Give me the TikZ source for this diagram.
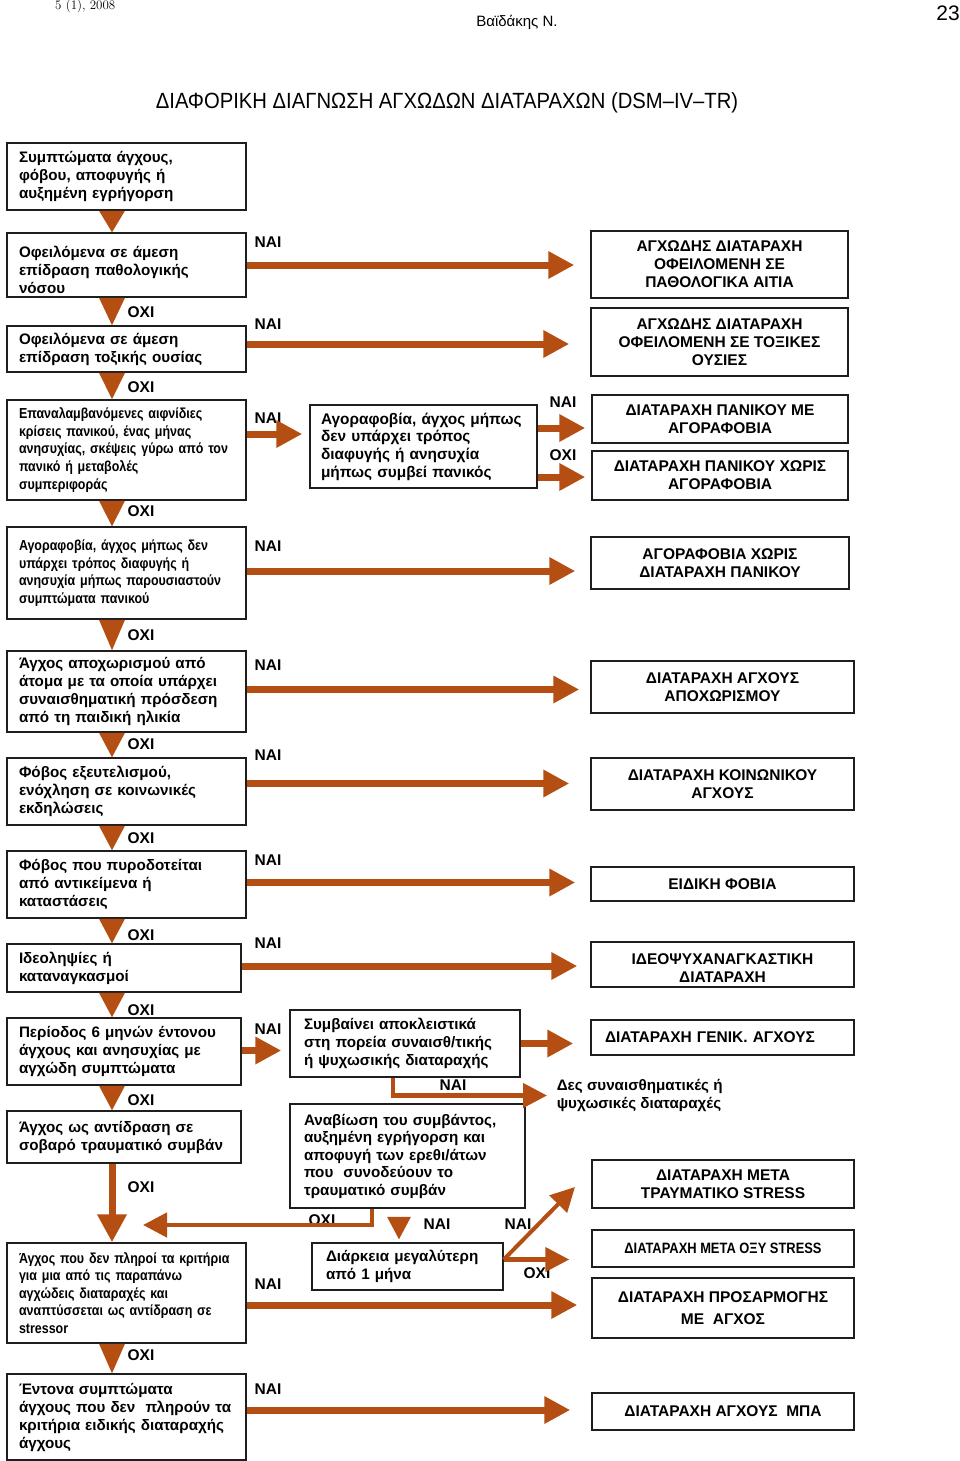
\documentclass[tikz,border=0pt]{standalone}
\usepackage{fontspec}
\usetikzlibrary{arrows.meta,calc}
\newfontfamily\sans{Liberation Sans}
\newfontfamily\sanscond[FakeStretch=0.86]{Liberation Sans}
\newfontfamily\titlefont[FakeStretch=0.92]{Liberation Sans}
\definecolor{arr}{RGB}{181,78,18}
\definecolor{boxc}{RGB}{30,30,30}
\newcommand{\dtri}[2]{\fill[arr] ($(#1.south -| tx)+(-13,0)$) -- ($(#1.south -| tx)+(13,0)$) -- (#2.north -| tx) -- cycle;}
\newcommand{\harr}[5][main]{\draw[#1, shorten >=#5pt] ($(#2.east)+(0,#4)$) -- ($(#2.east -| #3.west)+(0,#4)$);}
\begin{document}
\begin{tikzpicture}[x=1pt,y=-1pt,
 lbox/.style={draw=boxc, line width=1.5pt, inner xsep=12pt, inner ysep=0pt, align=left, font=\sans\bfseries\fontsize{15.2}{18}\selectfont},
 lboxs/.style={lbox, font=\sanscond\bfseries\fontsize{14.5}{17.6}\selectfont},
 rbox/.style={draw=boxc, line width=1.5pt, inner sep=0pt, align=center, font=\sans\bfseries\fontsize{15.5}{18}\selectfont},
 lab/.style={font=\sans\bfseries\fontsize{15.5}{15.5}\selectfont, inner sep=0pt},
 main/.style={draw=arr, line width=7pt, -{Triangle[length=26pt,width=26pt]}},
 thinarr/.style={draw=arr, line width=4.5pt, -{Triangle[length=24pt,width=24pt]}}
]
\fill[white] (0,0) rectangle (960,1461);
\useasboundingbox (0,0) rectangle (960,1461);

% header
\node[font=\fontsize{13}{15}\selectfont, anchor=north west, inner sep=0pt] (hdr1) at (55,0) {\oldstylenums{5} (\oldstylenums{1}), \oldstylenums{2008}};
\node[font=\sans\fontsize{15}{18}\selectfont] (hdr2) at (517,22) {Βαϊδάκης Ν.};
\node[font=\sans\fontsize{21}{24}\selectfont, anchor=east, inner sep=0pt] (hdr3) at (960,13) {23};
\node[font=\titlefont\fontsize{22}{26}\selectfont] (title) at (447,103) {ΔΙΑΦΟΡΙΚΗ ΔΙΑΓΝΩΣΗ ΑΓΧΩΔΩΝ ΔΙΑΤΑΡΑΧΩΝ (DSM–IV–TR)};

% left column
\node[lbox, minimum width=239pt, minimum height=67pt, text width=215pt] (A) at (126.5,176.5) {Συμπτώματα άγχους,\\φόβου, αποφυγής ή\\αυξημένη εγρήγορση};
\begin{scope}
\clip (7,233) rectangle (246,297);
\node[lbox, draw=none, text width=215pt] (Bt) at (126.5,270) {Οφειλόμενα σε άμεση\\επίδραση παθολογικής\\νόσου};
\end{scope}
\node[lbox, minimum width=239pt, minimum height=64pt] (B) at (126.5,265) {};
\node[lbox, minimum width=239pt, minimum height=46pt, text width=215pt] (C) at (126.5,349) {Οφειλόμενα σε άμεση\\επίδραση τοξικής ουσίας};
\node[lboxs, minimum width=239pt, minimum height=100pt, text width=215pt] (D) at (126.5,450) {Επαναλαμβανόμενες αιφνίδιες\\κρίσεις πανικού, ένας μήνας\\ανησυχίας, σκέψεις γύρω από τον\\πανικό ή μεταβολές\\συμπεριφοράς};
\node[lboxs, minimum width=239pt, minimum height=92pt, text width=215pt] (E) at (126.5,573) {Αγοραφοβία, άγχος μήπως δεν\\υπάρχει τρόπος διαφυγής ή\\ανησυχία μήπως παρουσιαστούν\\συμπτώματα πανικού};
\node[lbox, minimum width=239pt, minimum height=81pt, text width=215pt] (F) at (126.5,691.5) {Άγχος αποχωρισμού από\\άτομα με τα οποία υπάρχει\\συναισθηματική πρόσδεση\\από τη παιδική ηλικία};
\node[lbox, minimum width=239pt, minimum height=67pt, text width=215pt] (G) at (126.5,791.5) {Φόβος εξευτελισμού,\\ενόχληση σε κοινωνικές\\εκδηλώσεις};
\node[lbox, minimum width=239pt, minimum height=67pt, text width=215pt] (H) at (126.5,884.5) {Φόβος που πυροδοτείται\\από αντικείμενα ή\\καταστάσεις};
\node[lbox, minimum width=234pt, minimum height=48pt, text width=210pt] (I) at (124,968) {Ιδεοληψίες ή\\καταναγκασμοί};
\node[lbox, minimum width=234pt, minimum height=67pt, text width=210pt] (J) at (124,1051.5) {Περίοδος 6 μηνών έντονου\\άγχους και ανησυχίας με\\αγχώδη συμπτώματα};
\node[lbox, minimum width=234pt, minimum height=52pt, text width=210pt] (K) at (124,1137) {Άγχος ως αντίδραση σε\\σοβαρό τραυματικό συμβάν};
\node[lboxs, minimum width=239pt, minimum height=100pt, text width=215pt] (L) at (126.5,1293) {Άγχος που δεν πληροί τα κριτήρια\\για μια από τις παραπάνω\\αγχώδεις διαταραχές και\\αναπτύσσεται ως αντίδραση σε\\stressor};
\node[lbox, minimum width=239pt, minimum height=86pt, text width=215pt] (M) at (126.5,1417) {Έντονα συμπτώματα\\άγχους που δεν\ \ πληρούν τα\\κριτήρια ειδικής διαταραχής\\άγχους};

% middle column
\node[lbox, inner xsep=11pt, font=\sans\bfseries\fontsize{15.4}{17.7}\selectfont, minimum width=227pt, minimum height=83pt, text width=205pt] (Ag) at (423.5,446.5) {Αγοραφοβία, άγχος μήπως\\δεν υπάρχει τρόπος\\διαφυγής ή ανησυχία\\μήπως συμβεί πανικός};
\node[lbox, inner xsep=14pt, minimum width=230pt, minimum height=67pt, text width=202pt] (P) at (405,1043.5) {Συμβαίνει αποκλειστικά\\στη πορεία συναισθ/τικής\\ή ψυχωσικής διαταραχής};
\node[lbox, inner xsep=14pt, font=\sans\bfseries\fontsize{15.2}{17.5}\selectfont, minimum width=235pt, minimum height=104pt, text width=207pt] (Q) at (407.5,1156) {Αναβίωση του συμβάντος,\\αυξημένη εγρήγορση και\\αποφυγή των ερεθι/άτων\\που\ \ συνοδεύουν το\\τραυματικό συμβάν};
\node[lbox, inner xsep=14pt, minimum width=191pt, minimum height=47pt, text width=163pt] (S) at (407.5,1266.5) {Διάρκεια μεγαλύτερη\\από 1 μήνα};
\node[lbox, draw=none, inner sep=0pt, anchor=west] (des) at (556,1095.5) {Δες συναισθηματικές ή\\ψυχωσικές διαταραχές};

% right column
\node[rbox, minimum width=257pt, minimum height=67pt] (R1) at (719.5,264.5) {ΑΓΧΩΔΗΣ ΔΙΑΤΑΡΑΧΗ\\ΟΦΕΙΛΟΜΕΝΗ ΣΕ\\ΠΑΘΟΛΟΓΙΚΑ ΑΙΤΙΑ};
\node[rbox, minimum width=257pt, minimum height=68pt] (R2) at (719.5,342) {ΑΓΧΩΔΗΣ ΔΙΑΤΑΡΑΧΗ\\ΟΦΕΙΛΟΜΕΝΗ ΣΕ ΤΟΞΙΚΕΣ\\ΟΥΣΙΕΣ};
\node[rbox, minimum width=256pt, minimum height=48pt] (R3) at (720,419) {ΔΙΑΤΑΡΑΧΗ ΠΑΝΙΚΟΥ ΜΕ\\ΑΓΟΡΑΦΟΒΙΑ};
\node[rbox, minimum width=256pt, minimum height=49pt] (R4) at (720,475.5) {ΔΙΑΤΑΡΑΧΗ ΠΑΝΙΚΟΥ ΧΩΡΙΣ\\ΑΓΟΡΑΦΟΒΙΑ};
\node[rbox, minimum width=258pt, minimum height=52pt] (R5) at (720,563) {ΑΓΟΡΑΦΟΒΙΑ ΧΩΡΙΣ\\ΔΙΑΤΑΡΑΧΗ ΠΑΝΙΚΟΥ};
\node[rbox, minimum width=263pt, minimum height=52pt] (R6) at (722.5,687) {ΔΙΑΤΑΡΑΧΗ ΑΓΧΟΥΣ\\ΑΠΟΧΩΡΙΣΜΟΥ};
\node[rbox, minimum width=263pt, minimum height=52pt] (R7) at (722.5,784) {ΔΙΑΤΑΡΑΧΗ ΚΟΙΝΩΝΙΚΟΥ\\ΑΓΧΟΥΣ};
\node[rbox, minimum width=263pt, minimum height=34pt] (R8) at (722.5,884) {ΕΙΔΙΚΗ ΦΟΒΙΑ};
\begin{scope}
\clip (591,942) rectangle (854,987);
\node[rbox, draw=none] (R9t) at (722.5,968) {ΙΔΕΟΨΥΧΑΝΑΓΚΑΣΤΙΚΗ\\ΔΙΑΤΑΡΑΧΗ};
\end{scope}
\node[rbox, minimum width=263pt, minimum height=45pt] (R9) at (722.5,964.5) {};
\node[rbox, align=left, inner xsep=14pt, minimum width=263pt, minimum height=35pt, text width=235pt] (R10) at (722.5,1037.5) {ΔΙΑΤΑΡΑΧΗ ΓΕΝΙΚ. ΑΓΧΟΥΣ};
\node[rbox, minimum width=262pt, minimum height=48pt] (R11) at (723,1184) {ΔΙΑΤΑΡΑΧΗ ΜΕΤΑ\\ΤΡΑΥΜΑΤΙΚΟ STRESS};
\node[rbox, font=\sanscond\bfseries\fontsize{15}{18}\selectfont, minimum width=262pt, minimum height=37pt] (R12) at (723,1248.5) {ΔΙΑΤΑΡΑΧΗ ΜΕΤΑ ΟΞΥ STRESS};
\node[rbox, minimum width=262pt, minimum height=60pt] (R13) at (723,1308) {ΔΙΑΤΑΡΑΧΗ ΠΡΟΣΑΡΜΟΓΗΣ\\[4pt]ΜΕ\ \ ΑΓΧΟΣ};
\node[rbox, minimum width=262pt, minimum height=37pt] (R14) at (723,1411.5) {ΔΙΑΤΑΡΑΧΗ ΑΓΧΟΥΣ\ \ ΜΠΑ};

% labels
\foreach \yy [count=\i] in {312,387,511,635,744,838,935,1010,1100,1187,1355}
  \node[lab] (no\i) at (141,\yy) {ΟΧΙ};
\foreach \yy [count=\i] in {242,324,418,546,665,755,860,943,1029,1284,1389}
  \node[lab] (yes\i) at (268,\yy) {ΝΑΙ};
\node[lab] (yesAg) at (563,402) {ΝΑΙ};
\node[lab] (noAg) at (563,455) {ΟΧΙ};
\node[lab] (yesP) at (453,1085) {ΝΑΙ};
\node[lab] (noQ) at (322,1220) {ΟΧΙ};
\node[lab] (yesQ) at (437,1224) {ΝΑΙ};
\node[lab] (yesS) at (518,1224) {ΝΑΙ};
\node[lab] (noS) at (537,1273) {ΟΧΙ};

% down triangles
\coordinate (tx) at (112,0);
\dtri{A}{B}
\dtri{B}{C}
\dtri{C}{D}
\dtri{D}{E}
\dtri{E}{F}
\dtri{F}{G}
\dtri{G}{H}
\dtri{H}{I}
\dtri{I}{J}
\dtri{J}{K}
\dtri{L}{M}
\draw[main, -{Triangle[length=28pt,width=28pt]}] (K.south -| tx) -- (L.north -| tx);

% horizontal arrows
\harr{B}{R1}{0}{16}
\harr{C}{R2}{-5}{21}
\harr{D}{Ag}{-16}{7}
\harr{E}{R5}{-2}{15}
\harr{F}{R6}{-2}{11}
\harr{G}{R7}{-8}{21}
\harr{H}{R8}{-2}{15}
\harr{I}{R9}{-2}{13}
\harr{J}{P}{-1}{8}
\harr{L}{R13}{12}{14}
\harr{M}{R14}{-7}{21}
\harr{Ag}{R3}{-18.5}{6}
\harr{Ag}{R4}{30.5}{6}
\harr{P}{R10}{0}{17}

% lower middle connectors
\coordinate (pb) at (393,0);
\draw[thinarr, shorten >=9pt] (P.south -| pb) |- (des.west);
\coordinate (qb) at (372,0);
\coordinate (oxiend) at (143,1225);
\draw[thinarr] (Q.south -| qb) |- (oxiend);
\coordinate (sb) at (399,0);
\fill[arr] ($(Q.south -| sb)+(-12,8)$) -- ($(Q.south -| sb)+(12,8)$) -- ($(S.north -| sb)+(0,-3)$) -- cycle;
\coordinate (diagend) at (575,1187);
\draw[thinarr, line width=4pt] ($(S.east)+(0,-7)$) -- (diagend);
\harr[thinarr]{S}{R12}{-7}{22}
\end{tikzpicture}
\end{document}
